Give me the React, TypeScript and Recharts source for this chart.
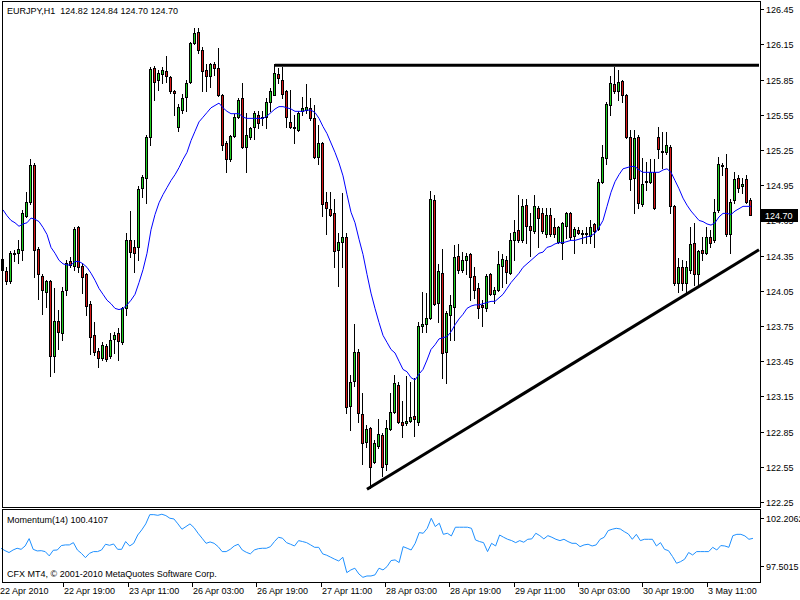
import {
  ComposedChart,
  Bar,
  Line,
  XAxis,
  YAxis,
  ReferenceLine,
} from "recharts";

const FONT = "'Liberation Sans', Arial, sans-serif";
const BULL = "#1fd01f";
const BEAR = "#d81818";

// EURJPY H1, 22 Apr 03:00 .. 3 May 22:00
const OPEN = [
  124.32, 124.22, 124.13, 124.37, 124.37, 124.40, 124.69, 124.81, 125.12, 124.41,
  124.18, 124.04, 124.13, 123.49, 123.79, 123.69, 124.06, 124.30, 124.26, 124.59,
  124.26, 124.19, 123.94, 123.67, 123.54, 123.48, 123.58, 123.49, 123.64, 123.69,
  123.61, 123.90, 124.48, 124.42, 124.42, 124.93, 125.01, 125.36, 125.95, 125.85,
  125.90, 125.92, 125.87, 125.75, 125.45, 125.59, 125.70, 125.83, 126.16, 126.26,
  126.10, 125.93, 125.88, 125.98, 125.95, 125.72, 125.31, 125.17, 125.37, 125.53,
  125.69, 125.28, 125.36, 125.45, 125.55, 125.52, 125.53, 125.66, 125.72, 125.90,
  125.85, 125.75, 125.49, 125.45, 125.42, 125.58, 125.59, 125.61, 125.52, 125.19,
  125.31, 124.81, 124.75, 124.71, 124.40, 124.47, 124.51, 123.07, 123.28, 123.53,
  123.00, 122.76, 122.88, 122.59, 122.73, 122.82, 122.57, 122.87, 123.02, 123.25,
  122.93, 122.92, 122.94, 122.98, 122.93, 123.75, 123.77, 123.82, 124.82, 123.95,
  124.20, 123.53, 123.84, 123.91, 124.35, 124.23, 124.31, 124.36, 124.18, 124.07,
  123.93, 123.90, 124.19, 124.02, 124.06, 124.26, 124.31, 124.20, 124.48, 124.57,
  124.48, 124.78, 124.60, 124.56, 124.76, 124.71, 124.53, 124.70, 124.59, 124.47,
  124.46, 124.60, 124.71, 124.52, 124.57, 124.54, 124.54, 124.52, 124.62, 124.58,
  124.98, 125.18, 125.63, 125.81, 125.75, 125.84, 125.72, 125.36, 125.01, 125.36,
  124.79, 124.99, 124.98, 125.06, 125.36, 125.24, 125.23, 125.28, 124.77, 124.12,
  124.25, 124.12, 124.23, 124.46, 124.19, 124.40, 124.37, 124.51, 124.48, 124.74,
  125.12, 125.10, 124.53, 124.82, 125.01, 124.94, 125.00, 124.82,
];
const HIGH = [
  124.35, 124.25, 124.39, 124.40, 124.48, 124.74, 124.89, 125.17, 125.14, 124.42,
  124.19, 124.14, 124.14, 124.07, 123.89, 124.08, 124.31, 124.34, 124.59, 124.60,
  124.29, 124.20, 123.96, 123.78, 123.56, 123.61, 123.60, 123.69, 123.70, 123.73,
  123.91, 124.54, 124.73, 124.48, 124.94, 125.04, 125.38, 125.96, 125.97, 125.93,
  125.96, 126.05, 125.88, 125.76, 125.64, 125.73, 125.85, 126.17, 126.29, 126.29,
  126.13, 125.98, 125.99, 126.00, 126.12, 125.73, 125.33, 125.38, 125.56, 125.69,
  125.82, 125.57, 125.45, 125.58, 125.58, 125.58, 125.69, 125.78, 125.98, 125.95,
  125.96, 125.76, 125.76, 125.55, 125.58, 125.70, 125.81, 125.69, 125.63, 125.46,
  125.32, 124.89, 124.89, 124.83, 124.54, 124.88, 124.54, 123.33, 123.77, 123.55,
  123.18, 122.91, 122.89, 122.78, 122.96, 122.84, 122.95, 123.18, 123.33, 123.27,
  123.11, 123.32, 123.27, 123.31, 123.78, 124.04, 124.03, 124.90, 124.87, 124.28,
  124.41, 123.88, 124.01, 124.44, 124.45, 124.38, 124.37, 124.37, 124.25, 124.12,
  123.97, 124.19, 124.20, 124.08, 124.39, 124.36, 124.35, 124.54, 124.65, 124.87,
  124.83, 124.83, 124.71, 124.87, 124.77, 124.76, 124.76, 124.76, 124.67, 124.60,
  124.64, 124.72, 124.72, 124.59, 124.59, 124.57, 124.59, 124.65, 124.63, 125.00,
  125.29, 125.66, 125.88, 125.96, 125.93, 125.85, 125.73, 125.42, 125.42, 125.38,
  125.18, 125.15, 125.17, 125.17, 125.45, 125.40, 125.40, 125.29, 124.78, 124.33,
  124.31, 124.30, 124.59, 124.63, 124.40, 124.51, 124.59, 124.57, 124.83, 125.19,
  125.14, 125.22, 124.83, 125.06, 125.04, 125.01, 125.04, 124.84,
];
const LOW = [
  124.07, 124.11, 124.12, 124.30, 124.29, 124.31, 124.68, 124.79, 124.17, 123.98,
  123.85, 123.91, 123.32, 123.36, 123.55, 123.63, 124.01, 124.25, 124.23, 124.21,
  124.03, 123.84, 123.51, 123.50, 123.40, 123.46, 123.45, 123.48, 123.52, 123.46,
  123.60, 123.84, 124.34, 124.21, 124.31, 124.85, 124.80, 125.29, 125.68, 125.76,
  125.82, 125.83, 125.74, 125.55, 125.41, 125.57, 125.58, 125.82, 126.15, 126.08,
  125.75, 125.75, 125.79, 125.89, 125.71, 125.25, 125.06, 125.16, 125.36, 125.52,
  125.27, 125.06, 125.34, 125.34, 125.44, 125.46, 125.44, 125.58, 125.72, 125.82,
  125.69, 125.45, 125.44, 125.31, 125.41, 125.55, 125.57, 125.51, 125.18, 125.13,
  124.69, 124.53, 124.69, 124.25, 124.09, 124.25, 123.01, 122.86, 123.24, 122.93,
  122.57, 122.72, 122.37, 122.58, 122.71, 122.47, 122.52, 122.86, 123.01, 122.92,
  122.80, 122.91, 122.93, 122.81, 122.91, 123.70, 123.70, 123.81, 123.93, 123.78,
  123.31, 123.26, 123.63, 123.63, 124.20, 124.21, 124.19, 123.97, 123.99, 123.82,
  123.75, 123.88, 124.01, 123.95, 124.05, 124.08, 124.12, 124.19, 124.31, 124.47,
  124.47, 124.46, 124.35, 124.54, 124.42, 124.54, 124.51, 124.52, 124.51, 124.46,
  124.32, 124.50, 124.49, 124.37, 124.53, 124.46, 124.46, 124.46, 124.42, 124.57,
  124.97, 125.13, 125.55, 125.74, 125.68, 125.66, 125.35, 124.91, 124.71, 124.76,
  124.77, 124.91, 124.97, 124.75, 125.18, 125.10, 125.22, 124.71, 124.10, 124.04,
  124.06, 124.04, 124.20, 124.10, 124.10, 124.31, 124.36, 124.42, 124.47, 124.72,
  125.04, 124.52, 124.37, 124.80, 124.89, 124.88, 124.80, 124.70,
];
const CLOSE = [
  124.23, 124.13, 124.37, 124.36, 124.41, 124.71, 124.81, 125.12, 124.40, 124.19,
  124.06, 124.13, 123.49, 123.79, 123.70, 124.05, 124.29, 124.27, 124.58, 124.25,
  124.17, 123.92, 123.66, 123.53, 123.48, 123.59, 123.47, 123.63, 123.67, 123.62,
  123.90, 124.48, 124.38, 124.37, 124.92, 125.02, 125.36, 125.94, 125.83, 125.91,
  125.93, 125.88, 125.75, 125.74, 125.62, 125.69, 125.82, 126.16, 126.25, 126.10,
  125.92, 125.88, 125.98, 125.95, 125.72, 125.29, 125.17, 125.37, 125.53, 125.68,
  125.28, 125.38, 125.44, 125.57, 125.48, 125.53, 125.66, 125.75, 125.91, 125.86,
  125.73, 125.53, 125.45, 125.44, 125.57, 125.61, 125.62, 125.52, 125.19, 125.31,
  124.79, 124.76, 124.70, 124.39, 124.47, 124.51, 123.06, 123.27, 123.53, 123.01,
  122.75, 122.87, 122.55, 122.75, 122.83, 122.55, 122.88, 123.02, 123.26, 122.93,
  122.91, 122.94, 122.97, 122.96, 123.75, 123.77, 123.82, 124.83, 123.94, 124.22,
  123.52, 123.86, 123.93, 124.34, 124.23, 124.31, 124.35, 124.17, 124.06, 123.90,
  123.91, 124.18, 124.02, 124.06, 124.28, 124.32, 124.21, 124.48, 124.55, 124.48,
  124.77, 124.60, 124.57, 124.77, 124.67, 124.56, 124.70, 124.53, 124.53, 124.59,
  124.63, 124.71, 124.51, 124.58, 124.54, 124.53, 124.53, 124.59, 124.56, 124.98,
  125.19, 125.64, 125.82, 125.75, 125.83, 125.72, 125.36, 125.00, 125.35, 124.80,
  124.96, 124.98, 125.06, 124.76, 125.26, 125.23, 125.29, 124.77, 124.12, 124.25,
  124.12, 124.25, 124.45, 124.19, 124.39, 124.37, 124.51, 124.46, 124.72, 125.13,
  125.11, 124.53, 124.81, 125.00, 124.93, 124.96, 124.81, 124.70,
];
// blue moving average
const MA = [
  124.74, 124.69, 124.65, 124.63, 124.60, 124.62, 124.63, 124.67, 124.66, 124.64,
  124.59, 124.53, 124.42, 124.37, 124.31, 124.28, 124.27, 124.27, 124.30, 124.30,
  124.28, 124.25, 124.20, 124.14, 124.07, 124.02, 123.97, 123.94, 123.90, 123.89,
  123.90, 123.93, 123.97, 124.02, 124.12, 124.23, 124.37, 124.57, 124.70, 124.80,
  124.87, 124.93, 124.99, 125.04, 125.10, 125.17, 125.23, 125.33, 125.41, 125.49,
  125.53, 125.57, 125.61, 125.63, 125.65, 125.61, 125.58, 125.56, 125.56, 125.56,
  125.53, 125.52, 125.52, 125.52, 125.52, 125.52, 125.54, 125.57, 125.60, 125.62,
  125.62, 125.61, 125.60, 125.58, 125.58, 125.58, 125.59, 125.59, 125.57, 125.52,
  125.45, 125.39, 125.31, 125.23, 125.14, 125.03, 124.87, 124.72, 124.63, 124.49,
  124.36, 124.19, 124.03, 123.90, 123.78, 123.67, 123.61, 123.55, 123.52, 123.45,
  123.38, 123.36, 123.31, 123.29, 123.34, 123.38, 123.46, 123.55, 123.59, 123.64,
  123.65, 123.66, 123.70, 123.76, 123.81, 123.85, 123.90, 123.92, 123.93, 123.93,
  123.94, 123.95, 123.96, 123.96, 123.99, 124.02, 124.07, 124.12, 124.16, 124.20,
  124.25, 124.28, 124.31, 124.34, 124.37, 124.38, 124.42, 124.43, 124.45, 124.46,
  124.46, 124.47, 124.48, 124.48, 124.49, 124.50, 124.51, 124.52, 124.54, 124.59,
  124.65, 124.77, 124.89, 124.98, 125.04, 125.09, 125.10, 125.11, 125.11, 125.08,
  125.06, 125.06, 125.06, 125.06, 125.06, 125.08, 125.09, 125.06, 124.99, 124.92,
  124.84, 124.78, 124.73, 124.69, 124.65, 124.64, 124.62, 124.61, 124.63, 124.68,
  124.71, 124.71, 124.70, 124.73, 124.75, 124.77, 124.77, 124.77,
];
// Momentum(14)
const MOMENTUM = [
  99.67, 99.49, 99.35, 99.54, 99.67, 99.59, 99.84, 100.39, 99.59, 99.47,
  99.49, 99.42, 99.10, 99.52, 99.54, 99.87, 99.92, 99.92, 100.09, 99.54,
  99.29, 98.97, 99.29, 99.42, 99.42, 99.54, 99.97, 99.89, 99.99, 99.59,
  99.59, 100.17, 99.84, 100.04, 100.66, 101.04, 101.49, 102.18, 102.18, 102.13,
  102.21, 102.11, 101.91, 101.86, 101.49, 101.09, 101.29, 101.49, 101.21, 100.79,
  100.42, 100.04, 100.14, 100.04, 99.79, 99.42, 99.42, 99.59, 99.84, 99.97,
  99.54, 99.37, 99.25, 99.54, 99.64, 99.67, 99.67, 99.79, 100.17, 100.49,
  100.42, 100.09, 99.97, 99.84, 100.24, 100.17, 100.09, 99.92, 99.74, 99.74,
  99.25, 99.15, 99.00, 98.85, 98.72, 99.00, 97.85, 98.05, 98.18, 97.75,
  97.50, 97.60, 97.60, 97.68, 98.18, 98.05, 98.30, 98.75, 98.80, 98.60,
  99.79, 99.67, 99.54, 100.04, 100.84, 100.79, 101.16, 101.91, 101.29, 101.54,
  100.71, 100.79, 100.59, 101.24, 101.24, 101.24, 101.24, 101.16, 100.29, 100.17,
  100.09, 99.42, 100.04, 99.84, 100.66, 100.49, 100.34, 100.24, 100.09, 100.24,
  100.12, 100.34, 100.37, 100.79, 100.61, 100.37, 100.61, 100.49, 100.34, 100.24,
  100.34, 100.17, 100.04, 100.04, 99.79, 99.92, 99.97, 99.84, 99.92, 100.34,
  100.49, 100.99, 101.09, 101.16, 101.11, 100.91, 100.74, 100.34, 100.71, 100.24,
  100.34, 100.34, 100.34, 99.84, 100.09, 99.59, 99.49, 99.05, 98.55, 98.67,
  98.85, 99.35, 99.17, 99.42, 99.42, 99.42, 99.42, 99.74, 99.54, 99.87,
  99.84, 99.74, 100.61, 100.71, 100.71, 100.59, 100.34, 100.41,
];

const PRICE_TICKS = [
  122.25, 122.55, 122.85, 123.15, 123.45, 123.75, 124.05, 124.35, 124.65,
  124.95, 125.25, 125.55, 125.85, 126.15, 126.45,
];
const LAST_PRICE = 124.7;
const MOM_TICKS = [102.2062, 97.5015];
const TIME_TICKS = [0, 16, 32, 48, 64, 80, 96, 112, 128, 144, 160, 176];
const TIME_LABELS = [
  "22 Apr 2010", "22 Apr 19:00", "23 Apr 11:00", "26 Apr 03:00", "26 Apr 19:00",
  "27 Apr 11:00", "28 Apr 03:00", "28 Apr 19:00", "29 Apr 11:00", "30 Apr 03:00",
  "30 Apr 19:00", "3 May 11:00",
];

// hand-drawn trend lines (bar index, price)
const RESISTANCE = { from: 68, to: 189, price: 125.972 };
const SUPPORT = { from: 91, fromPrice: 122.358, to: 189, toPrice: 124.4 };

const EMPTY_BARS = 2;

const rows = Array.from({ length: OPEN.length + EMPTY_BARS }, (_, i) =>
  i < OPEN.length
    ? {
        idx: i,
        range: [LOW[i], HIGH[i]],
        open: OPEN[i],
        high: HIGH[i],
        low: LOW[i],
        close: CLOSE[i],
        ma: MA[i],
        mom: MOMENTUM[i],
      }
    : { idx: i }
);

function Candle(props: any) {
  const { x, y, width, height, payload } = props;
  if (!payload || payload.open == null) return null;
  const { open, close, high, low } = payload;
  const top = Math.min(y, y + height);
  const h = Math.abs(height);
  const span = high - low;
  const toY = (v: number) => (span > 0 ? top + ((high - v) / span) * h : top);
  const cx = Math.floor(x + width / 2) + 0.5;
  const yo = toY(open);
  const yc = toY(close);
  const bTop = Math.round(Math.min(yo, yc)) + 0.5;
  const bBot = Math.max(Math.round(Math.max(yo, yc)) + 0.5, bTop + 1);
  return (
    <g>
      <line x1={cx} x2={cx} y1={Math.round(top)} y2={Math.round(top + h) + 1} stroke="#000" strokeWidth={1} />
      <rect
        x={cx - 1}
        y={bTop}
        width={2}
        height={bBot - bTop}
        fill={close >= open ? BULL : BEAR}
        stroke="#000"
        strokeWidth={1}
      />
    </g>
  );
}

function PriceTick(props: any) {
  const { x, y, payload } = props;
  const v = payload.value;
  const yy = Math.round(y) + 0.5;
  if (v === LAST_PRICE) {
    return (
      <g>
        <rect x={x} y={Math.round(y) - 6} width={37} height={13} fill="#000" />
        <text x={x + 4} y={yy + 3.5} fill="#fff" fontSize={9} fontFamily={FONT} textAnchor="start">
          {v.toFixed(2)}
        </text>
      </g>
    );
  }
  return (
    <g>
      <line x1={x - 1} x2={x + 3} y1={yy} y2={yy} stroke="#000" />
      <text x={x + 5} y={yy + 3.5} fill="#000" fontSize={9} fontFamily={FONT} textAnchor="start">
        {v.toFixed(2)}
      </text>
    </g>
  );
}

function MomTick(props: any) {
  const { x, y, payload } = props;
  const v = payload.value;
  const cy = Math.round(y + (v > 100 ? 4 : -11.5)) + 0.5;
  return (
    <g>
      <line x1={x - 1} x2={x + 3} y1={cy} y2={cy} stroke="#000" />
      <text x={x + 5} y={cy + 3.5} fill="#000" fontSize={9} fontFamily={FONT} textAnchor="start">
        {v.toFixed(4)}
      </text>
    </g>
  );
}

function TimeTick(props: any) {
  const { x, y, payload } = props;
  const k = TIME_TICKS.indexOf(payload.value);
  if (k < 0) return null;
  const lx = Math.round(x) - 1.5;
  return (
    <g>
      <line x1={lx} x2={lx} y1={y + 1} y2={y + 5} stroke="#000" />
      <text x={Math.round(x) - 1} y={y + 12} fill="#000" fontSize={9} fontFamily={FONT} textAnchor="start">
        {TIME_LABELS[k]}
      </text>
    </g>
  );
}

const frame = (top: number, height: number) => ({
  position: "absolute" as const,
  left: 2,
  top,
  width: 759,
  height,
  border: "1px solid #000",
  boxSizing: "border-box" as const,
  pointerEvents: "none" as const,
});

export default function App() {
  return (
    <div style={{ position: "fixed", left: 0, top: 0, width: 800, height: 600, background: "#fff", overflow: "hidden" }}>
      <div style={{ position: "absolute", left: 0, top: 0 }}>
        <ComposedChart
          width={800}
          height={510}
          data={rows}
          margin={{ top: 2, right: 0, bottom: 3, left: 1 }}
          barCategoryGap={0}
          barGap={0}
        >
          <XAxis dataKey="idx" type="category" hide />
          <YAxis
            orientation="right"
            width={39}
            domain={[122.207, 126.512]}
            allowDataOverflow
            ticks={[...PRICE_TICKS, LAST_PRICE]}
            interval={0}
            axisLine={false}
            tickLine={false}
            tickSize={0}
            tickMargin={0}
            tick={<PriceTick />}
          />
          <Bar dataKey="range" barSize={4} shape={<Candle />} isAnimationActive={false} />
          <Line
            dataKey="ma"
            type="linear"
            stroke="#0000ff"
            strokeWidth={1}
            dot={false}
            activeDot={false}
            isAnimationActive={false}
          />
          <ReferenceLine
            segment={[
              { x: RESISTANCE.from, y: RESISTANCE.price },
              { x: RESISTANCE.to, y: RESISTANCE.price },
            ]}
            stroke="#000"
            strokeWidth={3}
          />
          <ReferenceLine
            segment={[
              { x: SUPPORT.from, y: SUPPORT.fromPrice },
              { x: SUPPORT.to, y: SUPPORT.toPrice },
            ]}
            stroke="#000"
            strokeWidth={3}
          />
        </ComposedChart>
      </div>
      <div style={{ position: "absolute", left: 0, top: 510 }}>
        <ComposedChart
          width={800}
          height={90}
          data={rows}
          margin={{ top: 0, right: 0, bottom: 0, left: 1 }}
        >
          <XAxis
            dataKey="idx"
            type="category"
            height={18}
            ticks={TIME_TICKS}
            interval={0}
            axisLine={false}
            tickLine={false}
            tickSize={0}
            tickMargin={0}
            tick={<TimeTick />}
          />
          <YAxis
            orientation="right"
            width={39}
            domain={[97.15, 102.527]}
            allowDataOverflow
            ticks={MOM_TICKS}
            interval={0}
            axisLine={false}
            tickLine={false}
            tickSize={0}
            tickMargin={0}
            tick={<MomTick />}
          />
          <Line
            dataKey="mom"
            type="linear"
            stroke="#1e90ff"
            strokeWidth={1}
            dot={false}
            activeDot={false}
            isAnimationActive={false}
          />
        </ComposedChart>
      </div>
      <div style={frame(1, 507)} />
      <div style={frame(509, 74)} />
      <svg width={800} height={600} style={{ position: "absolute", left: 0, top: 0, pointerEvents: "none" }}>
        <text x={7} y={14} fontSize={9} fontFamily={FONT} fill="#000" style={{ whiteSpace: "pre" }}>
          {"EURJPY,H1  124.82 124.84 124.70 124.70"}
        </text>
        <text x={7} y={523} fontSize={9} fontFamily={FONT} fill="#000">
          Momentum(14) 100.4107
        </text>
        <text x={7} y={577} fontSize={9} fontFamily={FONT} fill="#000">
          CFX MT4, © 2001-2010 MetaQuotes Software Corp.
        </text>
      </svg>
    </div>
  );
}
